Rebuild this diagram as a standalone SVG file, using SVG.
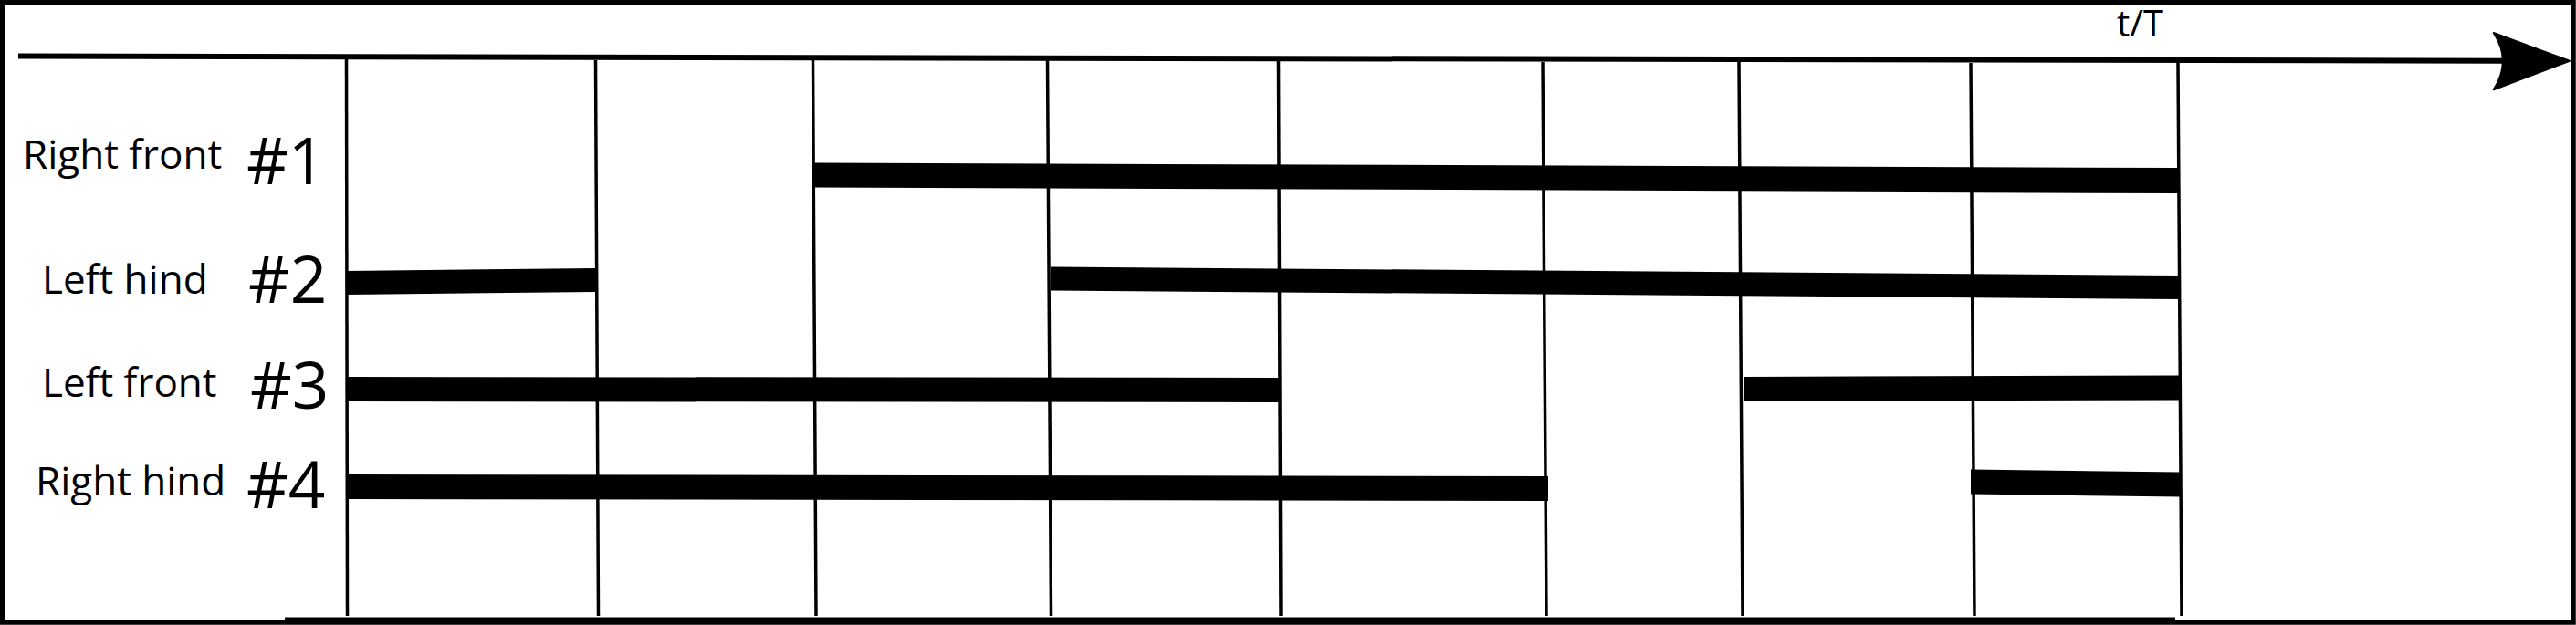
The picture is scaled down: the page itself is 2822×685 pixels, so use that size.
<svg xmlns="http://www.w3.org/2000/svg" width="2822" height="685" viewBox="0 0 2822 685">
  <style>
    .lbl { font-family: "Open Sans", "Noto Sans", "DejaVu Sans", sans-serif; fill: #000; }
    .name { font-size: 44px; }
    .num { font-size: 71px; }
    .grid { stroke: #000; stroke-width: 3.5; fill: none; }
    .bar { fill: #000; }
  </style>
  <rect x="0" y="0" width="2822" height="685" fill="#fff"/>
  <rect id="frame" x="2.5" y="2.5" width="2816.5" height="679.5" fill="none" stroke="#000" stroke-width="5.5"/>
  <line x1="312" y1="678" x2="2383" y2="678" stroke="#000" stroke-width="3"/>

  <g id="axis">
    <line x1="20" y1="61.5" x2="2742" y2="66.7" stroke="#000" stroke-width="6"/>
    <path d="M2815,66.7 L2731.7,36 Q2752,66.7 2731.7,98.3 Z" fill="#000" stroke="#000" stroke-width="2" stroke-linejoin="round"/>
    <text class="lbl" x="2319" y="40" font-size="40">t/T</text>
  </g>

  <g id="connectors">
    <line class="grid" x1="379.5" y1="65" x2="380.5" y2="675"/>
    <line class="grid" x1="652.5" y1="66" x2="655.5" y2="675"/>
    <line class="grid" x1="890.5" y1="66" x2="894" y2="675"/>
    <line class="grid" x1="1147.5" y1="66" x2="1151.5" y2="675"/>
    <line class="grid" x1="1400.5" y1="67" x2="1403" y2="675"/>
    <line class="grid" x1="1690" y1="68" x2="1694" y2="675"/>
    <line class="grid" x1="1905" y1="68" x2="1909" y2="675"/>
    <line class="grid" x1="2159" y1="69" x2="2163" y2="675"/>
    <line class="grid" x1="2386" y1="69" x2="2390" y2="675"/>
  </g>

  <g id="leg1">
    <text class="lbl name" x="25" y="185">Right front</text>
    <text class="lbl num" x="270" y="202">#1</text>
    <polygon class="bar" points="892,178.5 2387,184 2387,211 892,205.5"/>
  </g>

  <g id="leg2">
    <text class="lbl name" x="46" y="322">Left hind</text>
    <text class="lbl num" x="272" y="332">#2</text>
    <polygon class="bar" points="379,297 653,294 653,320 379,323"/>
    <polygon class="bar" points="1151,292.5 2388,302 2388,328 1151,318.5"/>
  </g>

  <g id="leg3">
    <text class="lbl name" x="46" y="435">Left front</text>
    <text class="lbl num" x="274" y="448">#3</text>
    <polygon class="bar" points="379,413 1402,414 1402,441 379,440"/>
    <polygon class="bar" points="1911,413 2389,411.5 2389,438.5 1911,440"/>
  </g>

  <g id="leg4">
    <text class="lbl name" x="39" y="543">Right hind</text>
    <text class="lbl num" x="270" y="557">#4</text>
    <polygon class="bar" points="379,520 1696,522 1696,549 379,547"/>
    <polygon class="bar" points="2159,514.5 2389,517.5 2389,544.5 2159,541.5"/>
  </g>
</svg>
